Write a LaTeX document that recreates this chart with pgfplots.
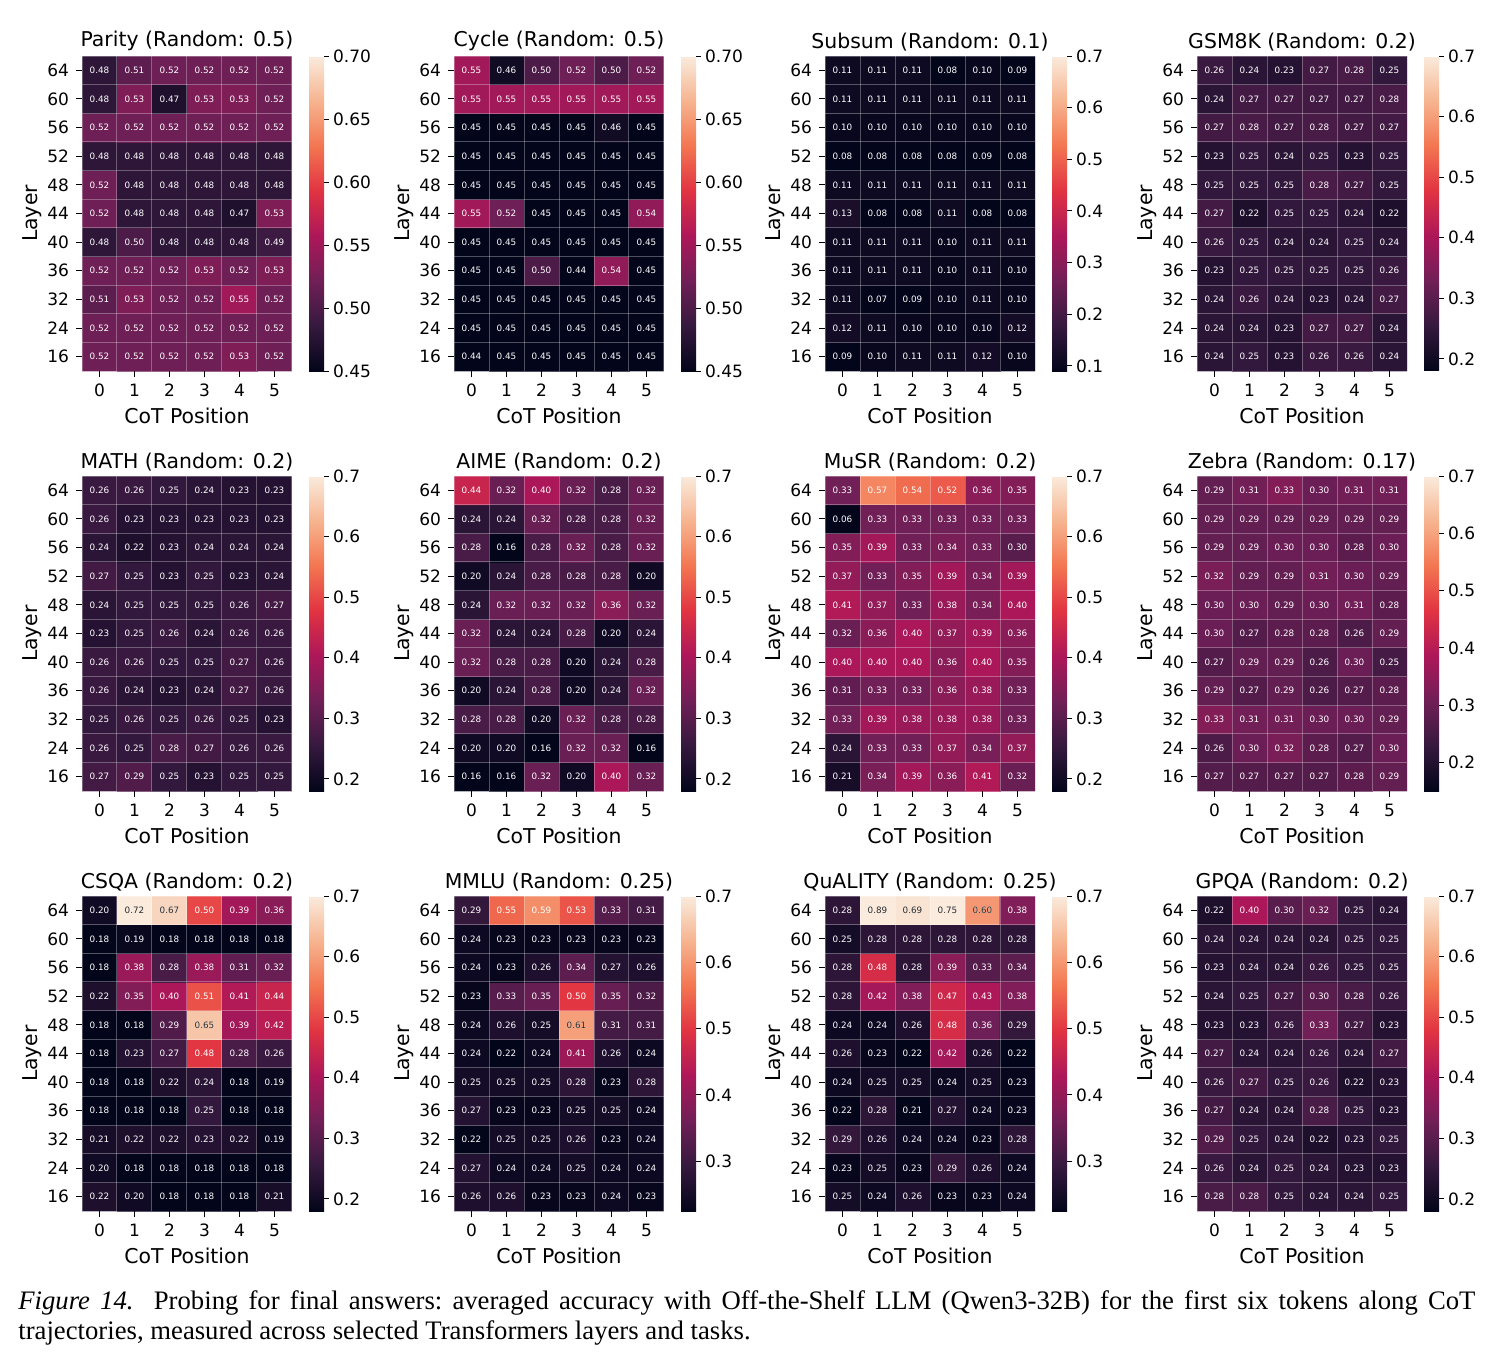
\documentclass[border=0pt]{standalone}
\usepackage{pgfplots}
\pgfplotsset{compat=1.18}
\usepackage{pgfplotstable}
\usepackage{fontspec}
\setmainfont{DejaVu Sans}
\newfontfamily\capfont{Liberation Serif}
\definecolor{darktext}{rgb}{0.15,0.15,0.15}
\pgfplotsset{
 colormap={rocket}{rgb255=(3,5,26) rgb255=(53,25,62) rgb255=(112,31,87) rgb255=(173,23,89) rgb255=(225,51,66) rgb255=(243,118,81) rgb255=(246,180,143) rgb255=(250,235,221)},
 hm/.style={
  scale only axis, width=105pt, height=157.5pt, anchor=north west,
  xmin=-0.5, xmax=5.5, ymin=-0.5, ymax=10.5, enlargelimits=false,
  axis on top, axis line style={draw=none}, scaled ticks=false,
  xtick={0,1,2,3,4,5}, xticklabels={0,1,2,3,4,5}, ytick={0,1,...,10},
  yticklabels={16,24,32,36,40,44,48,52,56,60,64},
  tick pos=left, tick align=outside, major tick length=3pt,
  tick style={black, line width=0.5pt},
  minor xtick={-0.5,0.5,...,5.5}, minor ytick={-0.5,0.5,...,10.5},
  minor tick length=0pt, minor grid style={white, opacity=0.3, line width=0.5pt},
  xminorgrids=true, yminorgrids=true,
  tick label style={font=\fontsize{8.5}{10}\selectfont},
  title style={font=\fontsize{10.2}{12}\selectfont, yshift=-7pt},
  label style={font=\fontsize{10.2}{12}\selectfont},
  xlabel={CoT Position}, ylabel={Layer}, xlabel shift=-1.5pt, ylabel shift=-4pt,
  colormap name=rocket, point meta max=0.7, colorbar,
 },
 cbcommon/.style={
  at={([xshift=3pt]parent axis.north east)}, anchor=north west,
  width=7.5pt, scale only axis, axis line style={draw=none}, scaled ticks=false,
  ytick pos=right, yticklabel pos=right, tick align=outside, major tick length=2.5pt,
  tick style={black, line width=0.5pt},
  yticklabel style={font=\fontsize{8.5}{10}\selectfont, xshift=-1.5pt},
 },
 cbA/.style={ytick={0.45,0.50,0.55,0.60,0.65,0.70},
  yticklabel={\pgfmathprintnumber[fixed,fixed zerofill,precision=2,assume math mode=true]{\tick}}},
 cbB/.style={ytick={0.1,0.2,0.3,0.4,0.5,0.6,0.7},
  yticklabel={\pgfmathprintnumber[fixed,fixed zerofill,precision=1,assume math mode=true]{\tick}}},
 hmlabels/.style={only marks, mark=*, mark size=0pt, mark options={draw=none,fill=none},
  point meta=explicit,
  nodes near coords={\pgfmathprintnumber[fixed,fixed zerofill,precision=2,assume math mode=true]{\pgfplotspointmeta}},
  nodes near coords align={center},
  every node near coord/.append style={font=\fontsize{4.4}{4.4}\selectfont, inner sep=0pt, anchor=center, text=white}},
 hmlabelsdark/.style={hmlabels, every node near coord/.append style={text=darktext}},
}
\newcommand{\heat}[7]{%
\begin{axis}[hm, at={(#1,#2)}, title={#3}, point meta min=#4, colorbar style={cbcommon,#6}]
\addplot[matrix plot*, mesh/cols=6, point meta=explicit] table[x=x,y=y,meta=c]{#5};
\addplot[hmlabels] table[x=x,y=y,meta=c]{#5};
#7
\end{axis}}

\pgfplotstableread[row sep=\\]{
x y c\\
0 0 0.52\\1 0 0.52\\2 0 0.52\\3 0 0.52\\4 0 0.53\\5 0 0.52\\
0 1 0.52\\1 1 0.52\\2 1 0.52\\3 1 0.52\\4 1 0.52\\5 1 0.52\\
0 2 0.51\\1 2 0.53\\2 2 0.52\\3 2 0.52\\4 2 0.55\\5 2 0.52\\
0 3 0.52\\1 3 0.52\\2 3 0.52\\3 3 0.53\\4 3 0.52\\5 3 0.53\\
0 4 0.48\\1 4 0.50\\2 4 0.48\\3 4 0.48\\4 4 0.48\\5 4 0.49\\
0 5 0.52\\1 5 0.48\\2 5 0.48\\3 5 0.48\\4 5 0.47\\5 5 0.53\\
0 6 0.52\\1 6 0.48\\2 6 0.48\\3 6 0.48\\4 6 0.48\\5 6 0.48\\
0 7 0.48\\1 7 0.48\\2 7 0.48\\3 7 0.48\\4 7 0.48\\5 7 0.48\\
0 8 0.52\\1 8 0.52\\2 8 0.52\\3 8 0.52\\4 8 0.52\\5 8 0.52\\
0 9 0.48\\1 9 0.53\\2 9 0.47\\3 9 0.53\\4 9 0.53\\5 9 0.52\\
0 10 0.48\\1 10 0.51\\2 10 0.52\\3 10 0.52\\4 10 0.52\\5 10 0.52\\
}\tParity

\pgfplotstableread[row sep=\\]{
x y c\\
0 0 0.44\\1 0 0.45\\2 0 0.45\\3 0 0.45\\4 0 0.45\\5 0 0.45\\
0 1 0.45\\1 1 0.45\\2 1 0.45\\3 1 0.45\\4 1 0.45\\5 1 0.45\\
0 2 0.45\\1 2 0.45\\2 2 0.45\\3 2 0.45\\4 2 0.45\\5 2 0.45\\
0 3 0.45\\1 3 0.45\\2 3 0.50\\3 3 0.44\\4 3 0.54\\5 3 0.45\\
0 4 0.45\\1 4 0.45\\2 4 0.45\\3 4 0.45\\4 4 0.45\\5 4 0.45\\
0 5 0.55\\1 5 0.52\\2 5 0.45\\3 5 0.45\\4 5 0.45\\5 5 0.54\\
0 6 0.45\\1 6 0.45\\2 6 0.45\\3 6 0.45\\4 6 0.45\\5 6 0.45\\
0 7 0.45\\1 7 0.45\\2 7 0.45\\3 7 0.45\\4 7 0.45\\5 7 0.45\\
0 8 0.45\\1 8 0.45\\2 8 0.45\\3 8 0.45\\4 8 0.46\\5 8 0.45\\
0 9 0.55\\1 9 0.55\\2 9 0.55\\3 9 0.55\\4 9 0.55\\5 9 0.55\\
0 10 0.55\\1 10 0.46\\2 10 0.50\\3 10 0.52\\4 10 0.50\\5 10 0.52\\
}\tCycle

\pgfplotstableread[row sep=\\]{
x y c\\
0 0 0.09\\1 0 0.10\\2 0 0.11\\3 0 0.11\\4 0 0.12\\5 0 0.10\\
0 1 0.12\\1 1 0.11\\2 1 0.10\\3 1 0.10\\4 1 0.10\\5 1 0.12\\
0 2 0.11\\1 2 0.07\\2 2 0.09\\3 2 0.10\\4 2 0.11\\5 2 0.10\\
0 3 0.11\\1 3 0.11\\2 3 0.11\\3 3 0.10\\4 3 0.11\\5 3 0.10\\
0 4 0.11\\1 4 0.11\\2 4 0.11\\3 4 0.10\\4 4 0.11\\5 4 0.11\\
0 5 0.13\\1 5 0.08\\2 5 0.08\\3 5 0.11\\4 5 0.08\\5 5 0.08\\
0 6 0.11\\1 6 0.11\\2 6 0.11\\3 6 0.11\\4 6 0.11\\5 6 0.11\\
0 7 0.08\\1 7 0.08\\2 7 0.08\\3 7 0.08\\4 7 0.09\\5 7 0.08\\
0 8 0.10\\1 8 0.10\\2 8 0.10\\3 8 0.10\\4 8 0.10\\5 8 0.10\\
0 9 0.11\\1 9 0.11\\2 9 0.11\\3 9 0.11\\4 9 0.11\\5 9 0.11\\
0 10 0.11\\1 10 0.11\\2 10 0.11\\3 10 0.08\\4 10 0.10\\5 10 0.09\\
}\tSubsum

\pgfplotstableread[row sep=\\]{
x y c\\
0 0 0.24\\1 0 0.25\\2 0 0.23\\3 0 0.26\\4 0 0.26\\5 0 0.24\\
0 1 0.24\\1 1 0.24\\2 1 0.23\\3 1 0.27\\4 1 0.27\\5 1 0.24\\
0 2 0.24\\1 2 0.26\\2 2 0.24\\3 2 0.23\\4 2 0.24\\5 2 0.27\\
0 3 0.23\\1 3 0.25\\2 3 0.25\\3 3 0.25\\4 3 0.25\\5 3 0.26\\
0 4 0.26\\1 4 0.25\\2 4 0.24\\3 4 0.24\\4 4 0.25\\5 4 0.24\\
0 5 0.27\\1 5 0.22\\2 5 0.25\\3 5 0.25\\4 5 0.24\\5 5 0.22\\
0 6 0.25\\1 6 0.25\\2 6 0.25\\3 6 0.28\\4 6 0.27\\5 6 0.25\\
0 7 0.23\\1 7 0.25\\2 7 0.24\\3 7 0.25\\4 7 0.23\\5 7 0.25\\
0 8 0.27\\1 8 0.28\\2 8 0.27\\3 8 0.28\\4 8 0.27\\5 8 0.27\\
0 9 0.24\\1 9 0.27\\2 9 0.27\\3 9 0.27\\4 9 0.27\\5 9 0.28\\
0 10 0.26\\1 10 0.24\\2 10 0.23\\3 10 0.27\\4 10 0.28\\5 10 0.25\\
}\tGSM

\pgfplotstableread[row sep=\\]{
x y c\\
0 0 0.27\\1 0 0.29\\2 0 0.25\\3 0 0.23\\4 0 0.25\\5 0 0.25\\
0 1 0.26\\1 1 0.25\\2 1 0.28\\3 1 0.27\\4 1 0.26\\5 1 0.26\\
0 2 0.25\\1 2 0.26\\2 2 0.25\\3 2 0.26\\4 2 0.25\\5 2 0.23\\
0 3 0.26\\1 3 0.24\\2 3 0.23\\3 3 0.24\\4 3 0.27\\5 3 0.26\\
0 4 0.26\\1 4 0.26\\2 4 0.25\\3 4 0.25\\4 4 0.27\\5 4 0.26\\
0 5 0.23\\1 5 0.25\\2 5 0.26\\3 5 0.24\\4 5 0.26\\5 5 0.26\\
0 6 0.24\\1 6 0.25\\2 6 0.25\\3 6 0.25\\4 6 0.26\\5 6 0.27\\
0 7 0.27\\1 7 0.25\\2 7 0.23\\3 7 0.25\\4 7 0.23\\5 7 0.24\\
0 8 0.24\\1 8 0.22\\2 8 0.23\\3 8 0.24\\4 8 0.24\\5 8 0.24\\
0 9 0.26\\1 9 0.23\\2 9 0.23\\3 9 0.23\\4 9 0.23\\5 9 0.23\\
0 10 0.26\\1 10 0.26\\2 10 0.25\\3 10 0.24\\4 10 0.23\\5 10 0.23\\
}\tMATH

\pgfplotstableread[row sep=\\]{
x y c\\
0 0 0.16\\1 0 0.16\\2 0 0.32\\3 0 0.20\\4 0 0.40\\5 0 0.32\\
0 1 0.20\\1 1 0.20\\2 1 0.16\\3 1 0.32\\4 1 0.32\\5 1 0.16\\
0 2 0.28\\1 2 0.28\\2 2 0.20\\3 2 0.32\\4 2 0.28\\5 2 0.28\\
0 3 0.20\\1 3 0.24\\2 3 0.28\\3 3 0.20\\4 3 0.24\\5 3 0.32\\
0 4 0.32\\1 4 0.28\\2 4 0.28\\3 4 0.20\\4 4 0.24\\5 4 0.28\\
0 5 0.32\\1 5 0.24\\2 5 0.24\\3 5 0.28\\4 5 0.20\\5 5 0.24\\
0 6 0.24\\1 6 0.32\\2 6 0.32\\3 6 0.32\\4 6 0.36\\5 6 0.32\\
0 7 0.20\\1 7 0.24\\2 7 0.28\\3 7 0.28\\4 7 0.28\\5 7 0.20\\
0 8 0.28\\1 8 0.16\\2 8 0.28\\3 8 0.32\\4 8 0.28\\5 8 0.32\\
0 9 0.24\\1 9 0.24\\2 9 0.32\\3 9 0.28\\4 9 0.28\\5 9 0.32\\
0 10 0.44\\1 10 0.32\\2 10 0.40\\3 10 0.32\\4 10 0.28\\5 10 0.32\\
}\tAIME

\pgfplotstableread[row sep=\\]{
x y c\\
0 0 0.21\\1 0 0.34\\2 0 0.39\\3 0 0.36\\4 0 0.41\\5 0 0.32\\
0 1 0.24\\1 1 0.33\\2 1 0.33\\3 1 0.37\\4 1 0.34\\5 1 0.37\\
0 2 0.33\\1 2 0.39\\2 2 0.38\\3 2 0.38\\4 2 0.38\\5 2 0.33\\
0 3 0.31\\1 3 0.33\\2 3 0.33\\3 3 0.36\\4 3 0.38\\5 3 0.33\\
0 4 0.40\\1 4 0.40\\2 4 0.40\\3 4 0.36\\4 4 0.40\\5 4 0.35\\
0 5 0.32\\1 5 0.36\\2 5 0.40\\3 5 0.37\\4 5 0.39\\5 5 0.36\\
0 6 0.41\\1 6 0.37\\2 6 0.33\\3 6 0.38\\4 6 0.34\\5 6 0.40\\
0 7 0.37\\1 7 0.33\\2 7 0.35\\3 7 0.39\\4 7 0.34\\5 7 0.39\\
0 8 0.35\\1 8 0.39\\2 8 0.33\\3 8 0.34\\4 8 0.33\\5 8 0.30\\
0 9 0.06\\1 9 0.33\\2 9 0.33\\3 9 0.33\\4 9 0.33\\5 9 0.33\\
0 10 0.33\\1 10 0.57\\2 10 0.54\\3 10 0.52\\4 10 0.36\\5 10 0.35\\
}\tMuSR

\pgfplotstableread[row sep=\\]{
x y c\\
0 0 0.27\\1 0 0.27\\2 0 0.27\\3 0 0.27\\4 0 0.28\\5 0 0.29\\
0 1 0.26\\1 1 0.30\\2 1 0.32\\3 1 0.28\\4 1 0.27\\5 1 0.30\\
0 2 0.33\\1 2 0.31\\2 2 0.31\\3 2 0.30\\4 2 0.30\\5 2 0.29\\
0 3 0.29\\1 3 0.27\\2 3 0.29\\3 3 0.26\\4 3 0.27\\5 3 0.28\\
0 4 0.27\\1 4 0.29\\2 4 0.29\\3 4 0.26\\4 4 0.30\\5 4 0.25\\
0 5 0.30\\1 5 0.27\\2 5 0.28\\3 5 0.28\\4 5 0.26\\5 5 0.29\\
0 6 0.30\\1 6 0.30\\2 6 0.29\\3 6 0.30\\4 6 0.31\\5 6 0.28\\
0 7 0.32\\1 7 0.29\\2 7 0.29\\3 7 0.31\\4 7 0.30\\5 7 0.29\\
0 8 0.29\\1 8 0.29\\2 8 0.30\\3 8 0.30\\4 8 0.28\\5 8 0.30\\
0 9 0.29\\1 9 0.29\\2 9 0.29\\3 9 0.29\\4 9 0.29\\5 9 0.29\\
0 10 0.29\\1 10 0.31\\2 10 0.33\\3 10 0.30\\4 10 0.31\\5 10 0.31\\
}\tZebra

\pgfplotstableread[row sep=\\]{
x y c\\
0 0 0.22\\1 0 0.20\\2 0 0.18\\3 0 0.18\\4 0 0.18\\5 0 0.21\\
0 1 0.20\\1 1 0.18\\2 1 0.18\\3 1 0.18\\4 1 0.18\\5 1 0.18\\
0 2 0.21\\1 2 0.22\\2 2 0.22\\3 2 0.23\\4 2 0.22\\5 2 0.19\\
0 3 0.18\\1 3 0.18\\2 3 0.18\\3 3 0.25\\4 3 0.18\\5 3 0.18\\
0 4 0.18\\1 4 0.18\\2 4 0.22\\3 4 0.24\\4 4 0.18\\5 4 0.19\\
0 5 0.18\\1 5 0.23\\2 5 0.27\\3 5 0.48\\4 5 0.28\\5 5 0.26\\
0 6 0.18\\1 6 0.18\\2 6 0.29\\3 6 0.65\\4 6 0.39\\5 6 0.42\\
0 7 0.22\\1 7 0.35\\2 7 0.40\\3 7 0.51\\4 7 0.41\\5 7 0.44\\
0 8 0.18\\1 8 0.38\\2 8 0.28\\3 8 0.38\\4 8 0.31\\5 8 0.32\\
0 9 0.18\\1 9 0.19\\2 9 0.18\\3 9 0.18\\4 9 0.18\\5 9 0.18\\
0 10 0.20\\1 10 0.72\\2 10 0.67\\3 10 0.50\\4 10 0.39\\5 10 0.36\\
}\tCSQA

\pgfplotstableread[row sep=\\]{
x y c\\
0 0 0.26\\1 0 0.26\\2 0 0.23\\3 0 0.23\\4 0 0.24\\5 0 0.23\\
0 1 0.27\\1 1 0.24\\2 1 0.24\\3 1 0.25\\4 1 0.24\\5 1 0.24\\
0 2 0.22\\1 2 0.25\\2 2 0.25\\3 2 0.26\\4 2 0.23\\5 2 0.24\\
0 3 0.27\\1 3 0.23\\2 3 0.23\\3 3 0.25\\4 3 0.25\\5 3 0.24\\
0 4 0.25\\1 4 0.25\\2 4 0.25\\3 4 0.28\\4 4 0.23\\5 4 0.28\\
0 5 0.24\\1 5 0.22\\2 5 0.24\\3 5 0.41\\4 5 0.26\\5 5 0.24\\
0 6 0.24\\1 6 0.26\\2 6 0.25\\3 6 0.61\\4 6 0.31\\5 6 0.31\\
0 7 0.23\\1 7 0.33\\2 7 0.35\\3 7 0.50\\4 7 0.35\\5 7 0.32\\
0 8 0.24\\1 8 0.23\\2 8 0.26\\3 8 0.34\\4 8 0.27\\5 8 0.26\\
0 9 0.24\\1 9 0.23\\2 9 0.23\\3 9 0.23\\4 9 0.23\\5 9 0.23\\
0 10 0.29\\1 10 0.55\\2 10 0.59\\3 10 0.53\\4 10 0.33\\5 10 0.31\\
}\tMMLU

\pgfplotstableread[row sep=\\]{
x y c\\
0 0 0.25\\1 0 0.24\\2 0 0.26\\3 0 0.23\\4 0 0.23\\5 0 0.24\\
0 1 0.23\\1 1 0.25\\2 1 0.23\\3 1 0.29\\4 1 0.26\\5 1 0.24\\
0 2 0.29\\1 2 0.26\\2 2 0.24\\3 2 0.24\\4 2 0.23\\5 2 0.28\\
0 3 0.22\\1 3 0.28\\2 3 0.21\\3 3 0.27\\4 3 0.24\\5 3 0.23\\
0 4 0.24\\1 4 0.25\\2 4 0.25\\3 4 0.24\\4 4 0.25\\5 4 0.23\\
0 5 0.26\\1 5 0.23\\2 5 0.22\\3 5 0.42\\4 5 0.26\\5 5 0.22\\
0 6 0.24\\1 6 0.24\\2 6 0.26\\3 6 0.48\\4 6 0.36\\5 6 0.29\\
0 7 0.28\\1 7 0.42\\2 7 0.38\\3 7 0.47\\4 7 0.43\\5 7 0.38\\
0 8 0.28\\1 8 0.48\\2 8 0.28\\3 8 0.39\\4 8 0.33\\5 8 0.34\\
0 9 0.25\\1 9 0.28\\2 9 0.28\\3 9 0.28\\4 9 0.28\\5 9 0.28\\
0 10 0.28\\1 10 0.89\\2 10 0.69\\3 10 0.75\\4 10 0.60\\5 10 0.38\\
}\tQuALITY

\pgfplotstableread[row sep=\\]{
x y c\\
0 0 0.28\\1 0 0.28\\2 0 0.25\\3 0 0.24\\4 0 0.24\\5 0 0.25\\
0 1 0.26\\1 1 0.24\\2 1 0.25\\3 1 0.24\\4 1 0.23\\5 1 0.23\\
0 2 0.29\\1 2 0.25\\2 2 0.24\\3 2 0.22\\4 2 0.23\\5 2 0.25\\
0 3 0.27\\1 3 0.24\\2 3 0.24\\3 3 0.28\\4 3 0.25\\5 3 0.23\\
0 4 0.26\\1 4 0.27\\2 4 0.25\\3 4 0.26\\4 4 0.22\\5 4 0.23\\
0 5 0.27\\1 5 0.24\\2 5 0.24\\3 5 0.26\\4 5 0.24\\5 5 0.27\\
0 6 0.23\\1 6 0.23\\2 6 0.26\\3 6 0.33\\4 6 0.27\\5 6 0.23\\
0 7 0.24\\1 7 0.25\\2 7 0.27\\3 7 0.30\\4 7 0.28\\5 7 0.26\\
0 8 0.23\\1 8 0.24\\2 8 0.24\\3 8 0.26\\4 8 0.25\\5 8 0.25\\
0 9 0.24\\1 9 0.24\\2 9 0.24\\3 9 0.24\\4 9 0.25\\5 9 0.25\\
0 10 0.22\\1 10 0.40\\2 10 0.30\\3 10 0.32\\4 10 0.25\\5 10 0.24\\
}\tGPQA

\begin{document}
\begin{tikzpicture}
\useasboundingbox (0,0) rectangle (751.5pt,-680.5pt);
\heat{41pt}{-28pt}{Parity (Random: 0.5)}{0.45}{\tParity}{cbA}{}
\heat{227pt}{-28pt}{Cycle (Random: 0.5)}{0.45}{\tCycle}{cbA}{}
\heat{412.5pt}{-28pt}{Subsum (Random: 0.1)}{0.09}{\tSubsum}{cbB}{}
\heat{598.5pt}{-28pt}{GSM8K (Random: 0.2)}{0.18}{\tGSM}{cbB}{}
\heat{41pt}{-238pt}{MATH (Random: 0.2)}{0.18}{\tMATH}{cbB}{}
\heat{227pt}{-238pt}{AIME (Random: 0.2)}{0.18}{\tAIME}{cbB}{}
\heat{412.5pt}{-238pt}{MuSR (Random: 0.2)}{0.18}{\tMuSR}{cbB}{}
\heat{598.5pt}{-238pt}{Zebra (Random: 0.17)}{0.15}{\tZebra}{cbB}{}
\heat{41pt}{-448pt}{CSQA (Random: 0.2)}{0.18}{\tCSQA}{cbB}{\addplot[hmlabelsdark] coordinates {(1,10) [0.72] (2,10) [0.67] (3,6) [0.65]};}
\heat{227pt}{-448pt}{MMLU (Random: 0.25)}{0.225}{\tMMLU}{cbB}{\addplot[hmlabelsdark] coordinates {(3,6) [0.61]};}
\heat{412.5pt}{-448pt}{QuALITY (Random: 0.25)}{0.225}{\tQuALITY}{cbB}{\addplot[hmlabelsdark] coordinates {(1,10) [0.89] (2,10) [0.69] (3,10) [0.75] (4,10) [0.60]};}
\heat{598.5pt}{-448pt}{GPQA (Random: 0.2)}{0.18}{\tGPQA}{cbB}{}
\node[anchor=north west, inner sep=0pt, text width=728.5pt, align=justify,
  font=\capfont\fontsize{13.35}{15}\selectfont] at (9pt,-645pt)
 {\frenchspacing\textit{Figure 14.}\ \ Probing for final answers: averaged accuracy with Off-the-Shelf LLM (Qwen3-32B) for the first six tokens along CoT\linebreak trajectories, measured across selected Transformers layers and tasks.};
\end{tikzpicture}
\end{document}
